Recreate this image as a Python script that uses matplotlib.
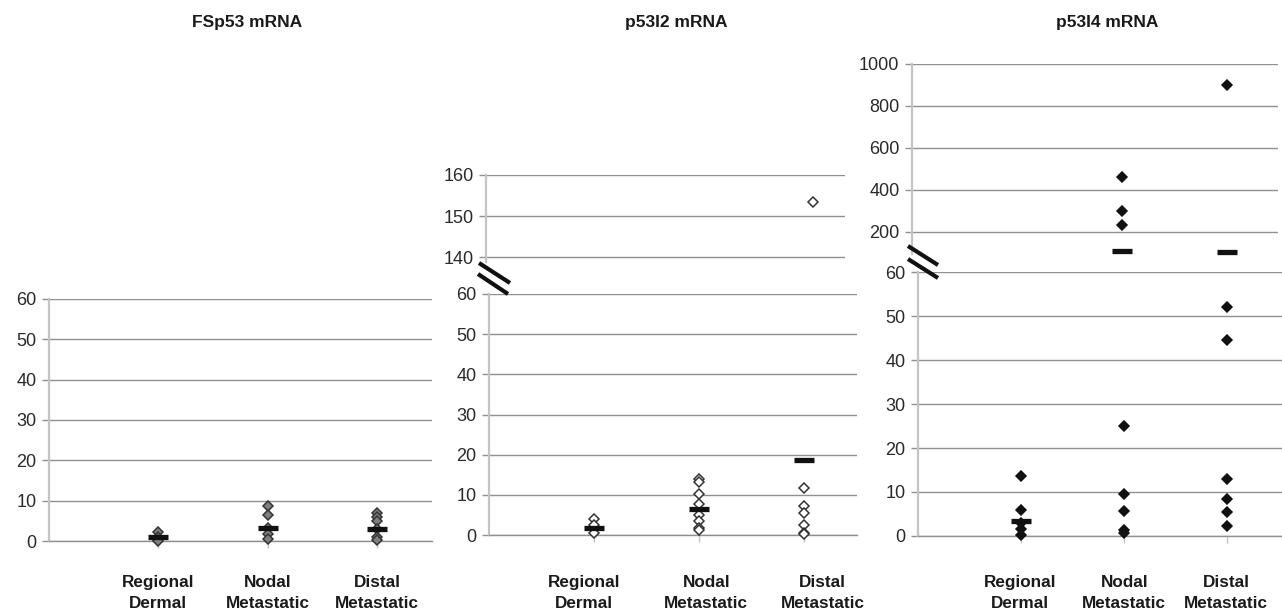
import matplotlib
matplotlib.use("Agg")
import matplotlib.pyplot as plt
from matplotlib.lines import Line2D
from matplotlib.transforms import blended_transform_factory

plt.rcParams['font.family'] = ['Liberation Sans', 'DejaVu Sans']

# ---------------- data ----------------
categories = ["Regional\nDermal", "Nodal\nMetastatic", "Distal\nMetastatic"]
titles = ["FSp53 mRNA", "p53I2 mRNA", "p53I4 mRNA"]

fsp53_regional = [2.2, 1.0, 0.3, 0.0]
fsp53_nodal = [8.6, 6.4, 3.1, 1.8, 0.6]
fsp53_distal = [7.0, 5.9, 5.0, 3.0, 1.0, 0.2]
fsp53_median = [1.0, 3.1, 2.9]

p53i2_regional = [4.1, 2.6, 0.4]
p53i2_nodal = [14.0, 13.2, 10.3, 7.6, 4.9, 3.5, 1.8, 1.2]
p53i2_distal = [153.5, 11.7, 7.1, 5.4, 2.4, 0.6, 0.2]
p53i2_median = [1.7, 6.5, 18.7]

p53i4_regional = [13.6, 5.9, 3.0, 1.6, 0.3]
p53i4_nodal = [462, 300, 231, 25.0, 9.6, 5.6, 1.4, 0.7]
p53i4_distal = [899, 52.1, 44.6, 13.0, 8.4, 5.5, 2.3]
p53i4_median = [3.4, 110, 105]

lower_ticks = [0, 10, 20, 30, 40, 50, 60]
p53i2_upper_ticks = [140, 150, 160]
p53i4_upper_ticks = [200, 400, 600, 800, 1000]

# ---------------- layout ----------------
W, H = 1282, 615
fig = plt.figure(figsize=(W / 100, H / 100), dpi=100)
fig.patch.set_facecolor("white")

GRID = "#909090"
SPINE = "#c4c4c4"
TXT = "#1a1a1a"


def add_ax(x0, x1, ytop, ybot):
    return fig.add_axes([x0 / W, 1 - ybot / H, (x1 - x0) / W, (ybot - ytop) / H])


def style(ax, ylim, yticks, xmax, lower=True):
    ax.set_xlim(0, xmax)
    ax.set_ylim(*ylim)
    ax.set_yticks(yticks)
    ax.set_yticklabels([str(t) for t in yticks], fontsize=13, color="#2a2a2a")
    ax.grid(axis="y", color=GRID, linewidth=1.0)
    ax.set_axisbelow(True)
    for s in ["top", "right"]:
        ax.spines[s].set_visible(False)
    ax.spines["left"].set_color(SPINE)
    ax.spines["left"].set_linewidth(1.6)
    ax.tick_params(axis="y", direction="out", length=5, width=1, color=GRID, pad=4)
    if lower:
        ax.spines["bottom"].set_color(GRID)
        ax.spines["bottom"].set_linewidth(1.0)
        ax.set_xticks([1, 2, 3])
        ax.set_xticklabels([])
        ax.tick_params(axis="x", direction="out", length=5, width=1, color=SPINE)
    else:
        ax.spines["bottom"].set_visible(False)
        ax.set_xticks([])


def scatter(ax, xs, vals, face, edge, lo, hi):
    pts = [(x, v) for x, v in zip(xs, vals) if lo <= v <= hi]
    if pts:
        ax.plot([p[0] for p in pts], [p[1] for p in pts], linestyle="none",
                marker="D", markersize=5.6, markerfacecolor=face,
                markeredgecolor=edge, markeredgewidth=1.1, zorder=3, clip_on=False)


def medians(ax, meds, lo, hi):
    pts = [(i + 1, m) for i, m in enumerate(meds) if lo <= m <= hi]
    if pts:
        ax.plot([p[0] for p in pts], [p[1] for p in pts], linestyle="none",
                marker="_", markersize=15, markeredgewidth=3.8,
                color="#111111", zorder=4, clip_on=False)


def panel(ax_list, groups, meds, face, edge):
    for ax, (lo, hi) in ax_list:
        for i, g in enumerate(groups):
            scatter(ax, [i + 1] * len(g), g, face, edge, lo, hi)
        medians(ax, meds, lo, hi)


def cat_labels(ax, offsets):
    tr = blended_transform_factory(ax.transData, fig.transFigure)
    px = ax.transData.transform([(1, 0)])[0][0] - ax.transData.transform([(0, 0)])[0][0]
    for i, (c, off) in enumerate(zip(categories, offsets)):
        ax.text(i + 1 + off / px, 1 - 593 / H, c, transform=tr, ha="center", va="center",
                fontsize=12.3, fontweight="bold", color=TXT, linespacing=1.42)


def break_marks(segs):
    for (x0, y0, x1, y1) in segs:
        fig.add_artist(Line2D([x0 / W, x1 / W], [1 - y0 / H, 1 - y1 / H],
                              transform=fig.transFigure, color="#111111",
                              linewidth=3.0, solid_capstyle="butt", zorder=10))


# Panel 1: FSp53
ax1 = add_ax(49, 432, 299, 541)
style(ax1, (0, 60), lower_ticks, 3.5)
panel([(ax1, (0, 60))], [fsp53_regional, fsp53_nodal, fsp53_distal], fsp53_median,
      "#808080", "#333333")
cat_labels(ax1, [0, 0, 0])

# Panel 2: p53I2
ax2u = add_ax(486, 845, 175, 262)
style(ax2u, (138.8, 160), p53i2_upper_ticks, 3.29, lower=False)
ax2 = add_ax(489, 857, 294, 535)
style(ax2, (0, 60), lower_ticks, 3.5)
panel([(ax2u, (60.0001, 1e9)), (ax2, (0, 60))],
      [p53i2_regional, p53i2_nodal, p53i2_distal], p53i2_median, "white", "#333333")
cat_labels(ax2, [-10, 7, 18])

# Panel 3: p53I4
ax3u = add_ax(912, 1278, 64, 254)
style(ax3u, (95, 1000), p53i4_upper_ticks, 3.49, lower=False)
ax3 = add_ax(918, 1282, 272, 536)
style(ax3, (0, 60), lower_ticks, 3.53)
panel([(ax3u, (60.0001, 1e9)), (ax3, (0, 60))],
      [p53i4_regional, p53i4_nodal, p53i4_distal], p53i4_median, "#111111", "#111111")
cat_labels(ax3, [-1, 0, -1])

# titles
for t, cx in zip(titles, [247, 676, 1107]):
    fig.text(cx / W, 1 - 23 / H, t, ha="center", va="center", fontsize=12.5,
             fontweight="bold", color=TXT)

# axis-break marks
break_marks([(479, 263, 510, 283), (478, 274, 508, 294),
             (908, 246, 938, 265), (908, 259, 938, 278)])

fig.savefig("out.png", dpi=100, facecolor="white")
